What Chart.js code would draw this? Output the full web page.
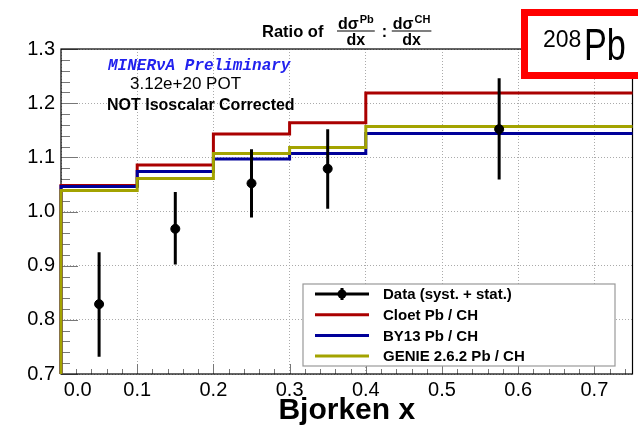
<!DOCTYPE html>
<html>
<head>
<meta charset="utf-8">
<script src="https://cdn.jsdelivr.net/npm/chart.js@4/dist/chart.umd.min.js"></script>
<style>
  html, body { margin: 0; padding: 0; background: #fff; }
  #wrap { width: 638px; height: 426px; }
</style>
</head>
<body>
<div id="wrap"><canvas id="ratioChart" width="638" height="426"></canvas></div>
<script>
// Pb / CH cross-section ratio vs Bjorken x

const binEdges = [0, 0.1, 0.2, 0.3, 0.4, 0.75];
const cloetVals = [1.048, 1.086, 1.143, 1.164, 1.219];
const by13Vals  = [1.046, 1.074, 1.097, 1.107, 1.144];
const genieVals = [1.039, 1.061, 1.107, 1.118, 1.157];

const dataX  = [0.05, 0.15, 0.25, 0.35, 0.575];
const dataY  = [0.829, 0.968, 1.052, 1.079, 1.152];
const dataLo = [0.732, 0.902, 0.989, 1.005, 1.059];
const dataHi = [0.925, 1.036, 1.115, 1.152, 1.246];

const xTicks = [0, 0.1, 0.2, 0.3, 0.4, 0.5, 0.6, 0.7];
const yTicks = [0.7, 0.8, 0.9, 1.0, 1.1, 1.2, 1.3];

const legendItems = [
  { label: 'Data (syst. + stat.)', color: '#000000', marker: true },
  { label: 'Cloet Pb / CH', color: '#aa0000' },
  { label: 'BY13 Pb / CH', color: '#000099' },
  { label: 'GENIE 2.6.2 Pb / CH', color: '#a3a300' },
];

const FONT = '"Liberation Sans", Arial, sans-serif';

// histogram outline starting from the frame bottom
function histPoints(vals) {
  const pts = [{ x: binEdges[0], y: yTicks[0] }];
  vals.forEach((v, i) => pts.push({ x: binEdges[i], y: v }));
  pts.push({ x: binEdges[binEdges.length - 1], y: vals[vals.length - 1] });
  return pts;
}

const errSegments = [];
dataX.forEach((x, i) => {
  errSegments.push({ x, y: dataLo[i] }, { x, y: dataHi[i] }, { x, y: null });
});

function stepSet(label, vals, color, order) {
  return {
    label, data: histPoints(vals), borderColor: color, borderWidth: 3,
    stepped: true, pointRadius: 0, fill: false, order, clip: 4,
  };
}

const decor = {
  id: 'decor',
  beforeDatasetsDraw(chart) {
    const { ctx, chartArea: a, scales: { x, y } } = chart;
    ctx.save();
    // minor / major ticks, ROOT style (inside the frame)
    ctx.strokeStyle = '#777';
    ctx.lineWidth = 1;
    for (let k = 0; k <= 37; k++) {
      const px = Math.round(x.getPixelForValue(k * 0.02)) + 0.5;
      const len = k % 5 === 0 ? 10 : 5;
      ctx.beginPath(); ctx.moveTo(px, a.bottom); ctx.lineTo(px, a.bottom - len); ctx.stroke();
    }
    for (let k = 0; k <= 30; k++) {
      const py = Math.round(y.getPixelForValue(0.7 + k * 0.02)) + 0.5;
      const len = k % 5 === 0 ? 17 : 9;
      ctx.beginPath(); ctx.moveTo(a.left, py); ctx.lineTo(a.left + len, py); ctx.stroke();
    }
    // frame
    ctx.strokeStyle = '#000';
    ctx.lineWidth = 1.2;
    ctx.strokeRect(a.left, a.top, a.right - a.left, a.bottom - a.top);
    ctx.restore();
  },
  afterDraw(chart) {
    const { ctx } = chart;
    ctx.save();

    // text inside the plot
    ctx.fillStyle = '#2222ee';
    ctx.font = 'italic bold 16px "Liberation Mono", "DejaVu Sans Mono", monospace';
    ctx.textBaseline = 'middle';
    ctx.fillText('MINERνA Preliminary', 108, 66);
    ctx.fillStyle = '#000';
    ctx.font = '17px ' + FONT;
    ctx.fillText('3.12e+20 POT', 130, 84);
    ctx.font = 'bold 16px ' + FONT;
    ctx.fillText('NOT Isoscalar Corrected', 107, 106);

    // legend
    const lx = 303, ly = 284, lw = 312, lh = 82;
    ctx.fillStyle = '#fff';
    ctx.fillRect(lx, ly, lw, lh);
    ctx.strokeStyle = '#999';
    ctx.lineWidth = 1.2;
    ctx.strokeRect(lx, ly, lw, lh);
    legendItems.forEach((it, i) => {
      const cy = ly + 10 + i * 20.7;
      ctx.strokeStyle = it.color;
      ctx.lineWidth = 3;
      ctx.beginPath(); ctx.moveTo(315, cy); ctx.lineTo(369, cy); ctx.stroke();
      if (it.marker) {
        ctx.beginPath(); ctx.moveTo(342, cy - 6); ctx.lineTo(342, cy + 6); ctx.stroke();
        ctx.fillStyle = it.color;
        ctx.beginPath(); ctx.arc(342, cy, 4.5, 0, Math.PI * 2); ctx.fill();
      }
      ctx.fillStyle = '#000';
      ctx.font = 'bold 15px ' + FONT;
      ctx.textBaseline = 'middle';
      ctx.fillText(it.label, 383, cy + 1);
    });

    // title: Ratio of dσPb/dx : dσCH/dx
    ctx.fillStyle = '#000';
    ctx.strokeStyle = '#000';
    ctx.textBaseline = 'alphabetic';
    ctx.font = 'bold 16.5px ' + FONT;
    ctx.fillText('Ratio of', 262, 37);
    const frac = (x0, sup) => {
      ctx.font = 'bold 16px ' + FONT;
      ctx.textAlign = 'left';
      ctx.fillText('dσ', x0 + 1, 29);
      const w = ctx.measureText('dσ').width;
      ctx.font = 'bold 11px ' + FONT;
      ctx.fillText(sup, x0 + 2 + w, 23);
      const w2 = ctx.measureText(sup).width;
      const x1 = x0 + 3 + w + w2;
      ctx.lineWidth = 1.2;
      ctx.beginPath(); ctx.moveTo(x0, 31); ctx.lineTo(x1, 31); ctx.stroke();
      ctx.font = 'bold 16px ' + FONT;
      ctx.textAlign = 'center';
      ctx.fillText('dx', (x0 + x1) / 2, 45);
      ctx.textAlign = 'left';
      return x1;
    };
    const end1 = frac(337, 'Pb');
    ctx.font = 'bold 16px ' + FONT;
    ctx.fillText(':', end1 + 7, 37);
    frac(end1 + 17, 'CH');

    // 208Pb box
    ctx.fillStyle = '#fff';
    ctx.fillRect(521, 9, 130, 70);
    ctx.strokeStyle = '#ff0000';
    ctx.lineWidth = 7;
    ctx.strokeRect(524.5, 12.5, 130, 63);
    ctx.fillStyle = '#000';
    ctx.font = '23px ' + FONT;
    ctx.fillText('208', 543, 47);
    ctx.save();
    ctx.translate(584, 60);
    ctx.scale(0.95, 1.25);
    ctx.font = '36px ' + FONT;
    ctx.fillText('Pb', 0, 0);
    ctx.restore();

    ctx.restore();
  }
};

new Chart(document.getElementById('ratioChart'), {
  type: 'line',
  data: {
    datasets: [
      { type: 'scatter', label: 'Data (syst. + stat.)', order: 0,
        data: dataX.map((x, i) => ({ x, y: dataY[i] })),
        backgroundColor: '#000', borderColor: '#000', pointRadius: 4.5, showLine: false },
      { label: 'err', order: 1, data: errSegments, borderColor: '#000', borderWidth: 3,
        pointRadius: 0, spanGaps: false, fill: false },
      stepSet('GENIE 2.6.2 Pb / CH', genieVals, '#a3a300', 2),
      stepSet('BY13 Pb / CH', by13Vals, '#000099', 3),
      stepSet('Cloet Pb / CH', cloetVals, '#aa0000', 4),
    ]
  },
  options: {
    responsive: false, animation: false,
    layout: { padding: { top: 49, right: 1, left: 0, bottom: 0 } },
    plugins: { legend: { display: false }, tooltip: { enabled: false } },
    scales: {
      x: {
        type: 'linear', min: 0, max: 0.75,
        afterFit: s => { s.height = 52; },
        afterBuildTicks: s => { s.ticks = xTicks.map(v => ({ value: v })); },
        grid: { color: '#aaa', lineWidth: 1, drawTicks: false },
        border: { display: false, dash: [1, 2] },
        ticks: { padding: 4, color: '#000', font: { family: FONT, size: 20 },
          callback: v => (v === 0 ? '      0.0' : v.toFixed(1)) },
        title: { display: true, text: 'Bjorken x', color: '#000',
          font: { family: FONT, size: 30, weight: 'bold' }, padding: { top: 0, bottom: -3 } }
      },
      y: {
        type: 'linear', min: 0.7, max: 1.3,
        afterFit: s => { s.width = 61; },
        afterBuildTicks: s => { s.ticks = yTicks.map(v => ({ value: v })); },
        grid: { color: '#aaa', lineWidth: 1, drawTicks: false },
        border: { display: false, dash: [1, 2] },
        ticks: { padding: 6, color: '#000', font: { family: FONT, size: 20 },
          callback: v => v.toFixed(1) }
      }
    }
  },
  plugins: [decor]
});
</script>
</body>
</html>
